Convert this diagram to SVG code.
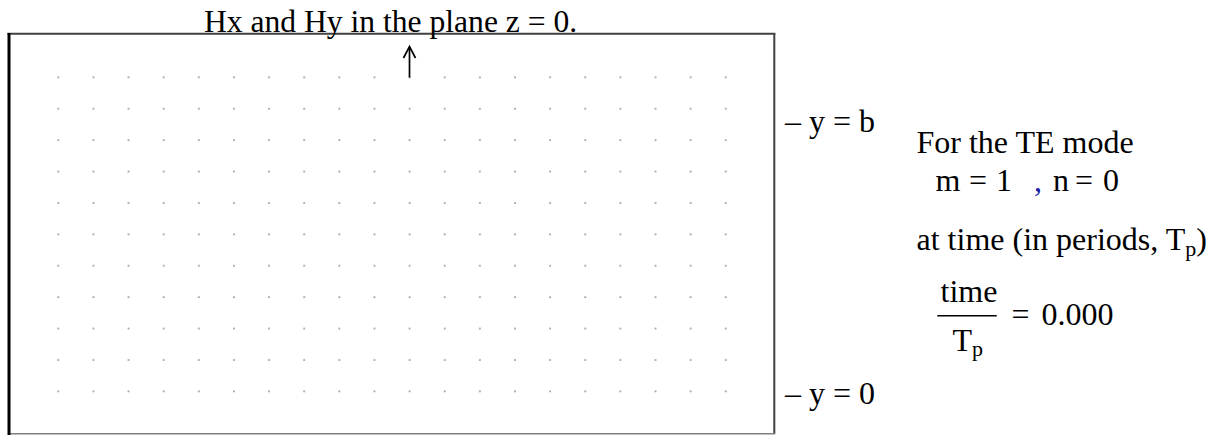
<svg xmlns="http://www.w3.org/2000/svg" width="1215" height="435" viewBox="0 0 1215 435">
<defs>
<style>
text{font-family:"Liberation Serif","Times New Roman",serif;font-size:32px;fill:#000}
.sub{font-size:22px}
</style>
<pattern id="dotgrid" x="40.73" y="61.6" width="35.13" height="31.4" patternUnits="userSpaceOnUse">
<circle cx="17.57" cy="15.7" r="0.85" fill="#666"/>
</pattern>
</defs>
<rect width="1215" height="435" fill="#fff"/>
<g id="frame">
<line x1="7.5" y1="33.7" x2="775.3" y2="33.7" stroke="#404040" stroke-width="2"/>
<line x1="774.3" y1="33" x2="774.3" y2="434" stroke="#404040" stroke-width="2"/>
<line x1="9" y1="433.8" x2="775" y2="433.8" stroke="#808080" stroke-width="1.5"/>
<line x1="9" y1="33" x2="9" y2="435" stroke="#000" stroke-width="3"/>
</g>
<g id="dots">
<rect x="40.73" y="61.6" width="702.6" height="345.4" fill="url(#dotgrid)"/>
</g>
<g id="connectors" fill="none" stroke="#000" stroke-width="1.7">
<line x1="409.5" y1="77.5" x2="409.5" y2="47"/>
<polyline points="403.5,58 409.5,46.5 415.5,58"/>
</g>
<g id="title"><text x="204" y="32" style="font-size:31.6px">Hx and Hy in the plane z = 0.</text></g>
<g id="label-yb"><text x="785" y="132">– y = b</text></g>
<g id="label-y0"><text x="785" y="404">– y = 0</text></g>
<g id="info">
<text x="916.5" y="153">For the TE mode</text>
<text y="191"><tspan x="935.5">m</tspan><tspan x="969">=</tspan><tspan x="996">1</tspan><tspan x="1034" fill="#1a1aa6">,</tspan><tspan x="1053">n</tspan><tspan x="1075">=</tspan><tspan x="1103">0</tspan></text>
<text x="916.5" y="250">at time (in periods, T<tspan class="sub" dy="6">p</tspan><tspan dy="-6">)</tspan></text>
<text x="940.5" y="301.5">time</text>
<line x1="937.3" y1="315.8" x2="996.7" y2="315.8" stroke="#000" stroke-width="1.6"/>
<text x="952.5" y="351">T<tspan class="sub" dy="5">p</tspan></text>
<text x="1011.5" y="325">=</text>
<text x="1041.5" y="325">0.000</text>
</g>
</svg>
